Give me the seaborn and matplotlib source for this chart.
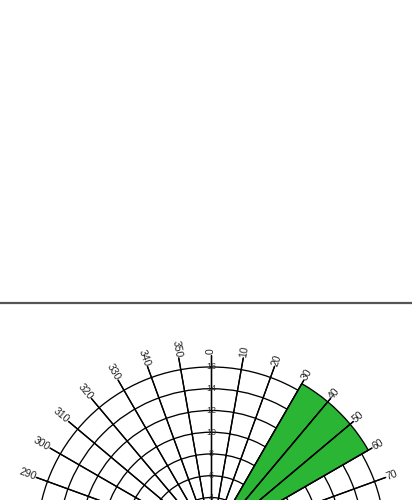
import numpy as np
import matplotlib
matplotlib.use("Agg")
import matplotlib.pyplot as plt
from matplotlib.lines import Line2D
import seaborn as sns

# data: direction bins (deg, start of bin) and their lengths
bin_start = [30, 40, 50]
bin_width = 10
values = [16.7, 16.7, 16.7]

angle_ticks = list(range(0, 360, 10))
# only these angle labels fall inside the visible part of the figure
shown_labels = [290, 300, 310, 320, 330, 340, 350, 0, 10, 20, 30, 40, 50, 60, 70]
radial_ticks = [2, 4, 6, 8, 10, 12, 14, 16]
radial_labels = [4, 6, 8, 10, 12, 14, 16]
r_max = 17.1

sns.set_style("white")
plt.rcParams["font.family"] = ["Liberation Sans", "DejaVu Sans"]

fig = plt.figure(figsize=(4.12, 5.0), dpi=100)

# separator line across the figure
fig.add_artist(Line2D([0, 1], [1 - 303 / 500, 1 - 303 / 500], color="#555555", lw=1.6))

# polar axes, centre sits below the bottom edge
cx, cy = 211 / 412, 1 - 541 / 500
rad_px = 186
w, h = 2 * rad_px / 412, 2 * rad_px / 500
ax = fig.add_axes([cx - w / 2, cy - h / 2, w, h], projection="polar")
ax.set_theta_zero_location("N")
ax.set_theta_direction(-1)
ax.set_ylim(0, r_max)
ax.spines["polar"].set_visible(False)
ax.set_facecolor("none")

ax.set_xticks(np.radians(angle_ticks))
ax.set_xticklabels([])
ax.set_yticks(radial_ticks)
ax.set_yticklabels([])
ax.grid(True, color="black", lw=0.95)
ax.tick_params(length=0)

ax.bar(np.radians(bin_start), values, width=np.radians(bin_width), align="edge",
       color="#2bb534", edgecolor="black", lw=0.95, zorder=3)

# spokes on top of the bars
for a in angle_ticks:
    ax.plot([np.radians(a)] * 2, [0, r_max], color="black", lw=0.95, zorder=4, clip_on=False)

# angle labels, written along the spokes
for a in shown_labels:
    math_ang = 90 - a
    if 0 <= a < 180:
        rot, ha = math_ang, "left"
    else:
        rot, ha = math_ang + 180 if math_ang < -90 else math_ang - 180, "right"
    ax.text(np.radians(a), r_max + 0.05, str(a), rotation=rot, rotation_mode="anchor",
            ha=ha, va="center", fontsize=7.5, color="#222222", clip_on=False)

# radial labels along the north spoke
for r in radial_labels:
    ax.text(0, r, str(r), ha="center", va="center", fontsize=6.5, color="#333333", zorder=5)

fig.savefig("out.png", dpi=100)
